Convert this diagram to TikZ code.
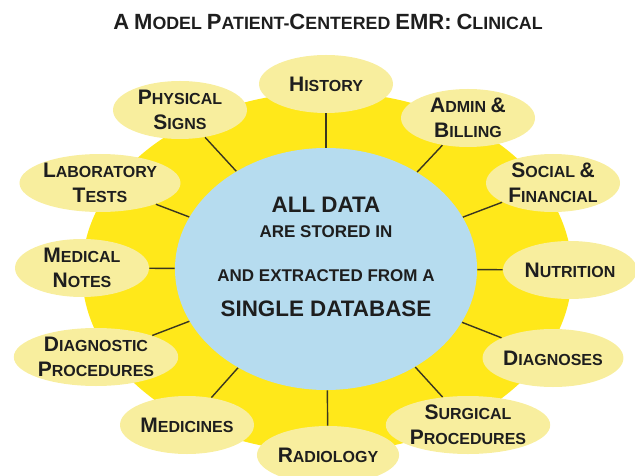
\documentclass[tikz,border=0pt]{standalone}
\usepackage{fontspec}
\setmainfont{Liberation Sans}
\usetikzlibrary{shapes.geometric}
\definecolor{sunYellow}{HTML}{FFE81A}
\definecolor{petalYellow}{HTML}{F8EE9E}
\definecolor{dbBlue}{HTML}{B6DCEF}
\definecolor{inkDark}{HTML}{1E1E1E}
\definecolor{spokeDark}{HTML}{3A3620}
% fake small caps: big first letter, smaller rest
\newcommand{\scw}[2]{{\fontsize{10.5}{12.5}\selectfont #1}#2}
\newcommand{\scwt}[2]{{\fontsize{11}{13}\selectfont #1}#2}

\begin{document}
\begin{tikzpicture}[yscale=-1, x=0.5pt, y=0.5pt]
		\tikzstyle{petal} = [ellipse, fill=petalYellow, minimum width=67pt, minimum height=29pt, inner sep=0pt, align=center, text=inkDark, font=\fontsize{8}{12.5}\selectfont\bfseries]
		\tikzstyle{db} = [ellipse, fill=dbBlue, minimum width=151pt, minimum height=121pt, inner sep=0pt]
		\tikzstyle{dbtext} = [inner sep=0pt, align=center, text=inkDark, font=\fontsize{8.5}{12.5}\selectfont\bfseries]
		\tikzstyle{title} = [inner sep=0pt, anchor=base, text=inkDark, font=\fontsize{8.9}{13}\selectfont\bfseries]
		\tikzstyle{spoke} = [draw=spokeDark, line width=0.7pt]

		\useasboundingbox (0,0) rectangle (635,475);

		\node[title] (title) at (328,30) {\scwt{A}{} \scwt{M}{ODEL} \scwt{P}{ATIENT}-\scwt{C}{ENTERED} \scwt{EMR:}{} \scwt{C}{LINICAL}};

		% the sun behind everything
		\fill[sunYellow] (327,272) ellipse [x radius=245, y radius=180];

		\node[db] (db) at (326,269) {};
		\node[dbtext] (dbtext) at (326,257) {{\fontsize{11.2}{12.5}\selectfont ALL DATA}\\
			ARE STORED IN\\[9.5pt]
			AND EXTRACTED FROM A\\[5pt]
			{\fontsize{11.2}{12.5}\selectfont SINGLE DATABASE}};

		\node[petal] (hist) at 		(326,84) {\scw{H}{ISTORY}};
		\node[petal] (phys) at 		(180,110) {\scw{P}{HYSICAL}\\\scw{S}{IGNS}};
		\node[petal] (admin) at 	(468,118) {\scw{A}{DMIN} \scw{\&}{}\\\scw{B}{ILLING}};
		\node[petal] (lab) at 		(100,183) {\scw{L}{ABORATORY}\\\scw{T}{ESTS}};
		\node[petal] (social) at 	(553,183) {\scw{S}{OCIAL} \scw{\&}{}\\\scw{F}{INANCIAL}};
		\node[petal] (notes) at 	(82,268) {\scw{M}{EDICAL}\\\scw{N}{OTES}};
		\node[petal] (nutr) at 		(570,270) {\scw{N}{UTRITION}};
		\node[petal] (diagp) at 	(96,357) {\scw{D}{IAGNOSTIC}\\\scw{P}{ROCEDURES}};
		\node[petal] (diagn) at 	(553,358) {\scw{D}{IAGNOSES}};
		\node[petal] (meds) at 		(187,425) {\scw{M}{EDICINES}};
		\node[petal] (surg) at 		(468,425) {\scw{S}{URGICAL}\\\scw{P}{ROCEDURES}};
		\node[petal] (radio) at 	(328,455) {\scw{R}{ADIOLOGY}};

		\draw[spoke] (db) -- (hist);
		\draw[spoke] (db) -- (phys);
		\draw[spoke] (db) -- (admin);
		\draw[spoke] (db) -- (lab);
		\draw[spoke] (db) -- (social);
		\draw[spoke] (db) -- (notes);
		\draw[spoke] (db) -- (nutr);
		\draw[spoke] (db) -- (diagp);
		\draw[spoke] (db) -- (diagn);
		\draw[spoke] (db) -- (meds);
		\draw[spoke] (db) -- (surg);
		\draw[spoke] (db) -- (radio);
\end{tikzpicture}
\end{document}
